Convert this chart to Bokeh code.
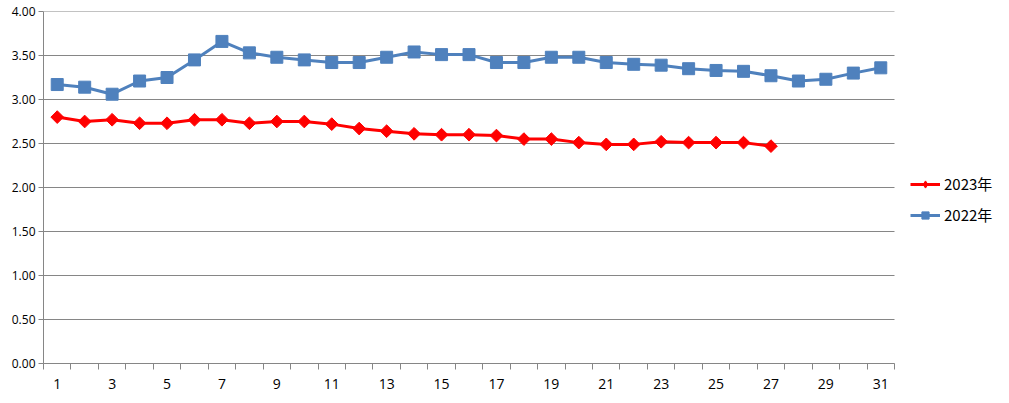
import math
from bokeh.plotting import figure
from bokeh.models import FixedTicker, NumeralTickFormatter, Legend, LegendItem, Range1d, ColumnDataSource
from bokeh.embed import file_html
from bokeh.resources import INLINE

days_2022 = list(range(1, 32))
vals_2022 = [3.17, 3.14, 3.06, 3.21, 3.25, 3.45, 3.66, 3.53, 3.48, 3.45,
             3.42, 3.42, 3.48, 3.54, 3.51, 3.51, 3.42, 3.42, 3.48, 3.48,
             3.42, 3.40, 3.39, 3.35, 3.33, 3.32, 3.27, 3.21, 3.23, 3.30, 3.36]
days_2023 = list(range(1, 28))
vals_2023 = [2.80, 2.75, 2.77, 2.73, 2.73, 2.77, 2.77, 2.73, 2.75, 2.75,
             2.72, 2.67, 2.64, 2.61, 2.60, 2.60, 2.59, 2.55, 2.55, 2.51,
             2.49, 2.49, 2.52, 2.51, 2.51, 2.51, 2.47]
x_labels = [str(d) for d in range(1, 32, 2)]
y_ticks = [0, 0.5, 1.0, 1.5, 2.0, 2.5, 3.0, 3.5, 4.0]

RED = "#FF0000"
BLUE = "#4F81BD"
GRID = "#868686"
FONT = "Open Sans"

X0, X1 = 0.5, 31.5          # category area
FRAME_W = 962               # frame spans the legend area too
x_end = X0 + (X1 - X0) * FRAME_W / 851.0

p = figure(width=1005, height=398, output_backend="svg", toolbar_location=None,
           x_range=Range1d(X0, x_end), y_range=Range1d(0, 4),
           min_border_left=43, min_border_top=11, min_border_bottom=35, min_border_right=0)
p.outline_line_color = None
p.background_fill_color = "white"

p.xgrid.grid_line_color = None
p.ygrid.grid_line_color = None
# horizontal grid lines, limited to the category area
p.segment(x0=[X0] * len(y_ticks), x1=[X1] * len(y_ticks), y0=y_ticks, y1=y_ticks,
          line_color=GRID, line_width=1)

# x axis
p.xaxis.ticker = FixedTicker(ticks=[int(s) for s in x_labels],
                             minor_ticks=[i + 0.5 for i in range(0, 32)])
p.xaxis.bounds = (X0, X1)
p.xaxis.major_tick_line_color = None
p.xaxis.minor_tick_line_color = GRID
p.xaxis.minor_tick_out = 6
p.xaxis.minor_tick_in = 0
p.xaxis.axis_line_color = GRID
p.xaxis.major_label_text_font = FONT
p.xaxis.major_label_text_font_size = "14px"
p.xaxis.major_label_text_color = "#000000"
p.xaxis.major_label_standoff = 9

# y axis
p.yaxis.ticker = FixedTicker(ticks=y_ticks)
p.yaxis.formatter = NumeralTickFormatter(format="0.00")
p.yaxis.major_tick_line_color = GRID
p.yaxis.major_tick_out = 5
p.yaxis.major_tick_in = 0
p.yaxis.minor_tick_line_color = None
p.yaxis.axis_line_color = GRID
p.yaxis.major_label_text_font = FONT
p.yaxis.major_label_text_font_size = "12px"
p.yaxis.major_label_text_color = "#000000"
p.yaxis.major_label_standoff = 3

src22 = ColumnDataSource(dict(x=days_2022, y=vals_2022))
src23 = ColumnDataSource(dict(x=days_2023, y=vals_2023))

l22 = p.line("x", "y", source=src22, line_color=BLUE, line_width=3)
m22 = p.scatter("x", "y", source=src22, marker="square", size=12,
                fill_color=BLUE, line_color=BLUE)
l23 = p.line("x", "y", source=src23, line_color=RED, line_width=3)
m23 = p.scatter("x", "y", source=src23, marker="square", angle=math.pi / 4, size=9,
                fill_color=RED, line_color=RED)
# legend-only diamond glyph (a single undrawn NaN point)
k23 = p.scatter(x=[float("nan")], y=[float("nan")], marker="diamond", size=14,
                fill_color=RED, line_color=RED)

legend = Legend(items=[LegendItem(label="2023年", renderers=[l23, k23]),
                       LegendItem(label="2022年", renderers=[l22, m22])],
                location=(867, 138), orientation="vertical",
                border_line_color=None, background_fill_alpha=0,
                label_text_font="Noto Sans CJK SC", label_text_font_size="15px",
                label_text_color="#000000",
                glyph_width=30, glyph_height=18, label_standoff=4,
                spacing=10, padding=0, margin=0)
p.add_layout(legend, "center")

open("out.html", "w").write(file_html(p, INLINE))
